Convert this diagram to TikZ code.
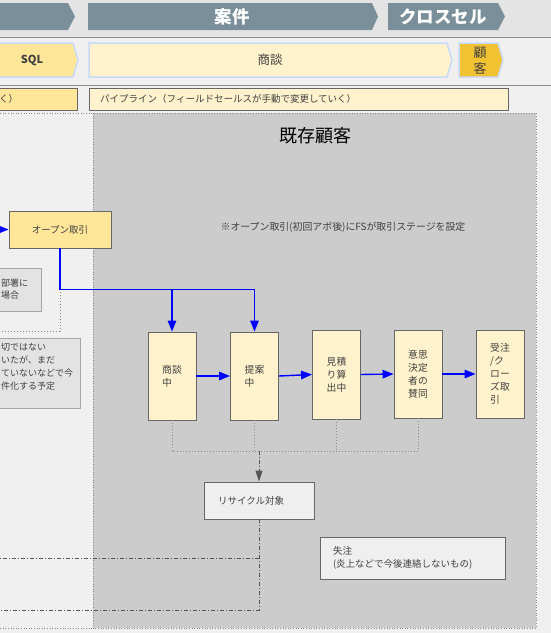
\documentclass[tikz,border=0pt]{standalone}
\usepackage{fontspec}
\setmainfont{Noto Sans CJK JP}
\usetikzlibrary{arrows.meta}
\definecolor{canvas}{HTML}{F0F0F0}
\definecolor{topband}{HTML}{E4E4E4}
\definecolor{hdrc}{HTML}{7A8F99}
\definecolor{sepc}{HTML}{8C8C8C}
\definecolor{sqlc}{HTML}{FFE699}
\definecolor{cream}{HTML}{FFF2CC}
\definecolor{gold}{HTML}{F1C232}
\definecolor{lblue}{HTML}{C9DAF8}
\definecolor{maingray}{HTML}{CCCCCC}
\definecolor{bd}{HTML}{666666}
\definecolor{txt}{HTML}{404040}
\definecolor{boxgray}{HTML}{E3E3E3}
\definecolor{boxbd}{HTML}{A6A6A6}
\definecolor{recyc}{HTML}{EFEFEF}
\definecolor{dotc}{HTML}{8A8A8A}
\definecolor{linkc}{HTML}{555555}
\begin{document}
\begin{tikzpicture}[x=1pt,y=-1pt,
  small/.style={font=\fontsize{9.5}{13}\selectfont, text=txt},
  hdrtext/.style={font=\fontsize{17.5}{20}\selectfont\bfseries, text=white},
  stagebox/.style={draw=bd, line width=0.9pt, fill=cream, minimum width=48pt, minimum height=88pt, inner sep=0pt, align=left, font=\fontsize{9.8}{13}\selectfont, text=txt},
  yellowbox/.style={draw=bd, line width=0.9pt, fill=sqlc, inner sep=0pt, small},
  notebox/.style={draw=bd, line width=0.9pt, fill=recyc, inner sep=0pt, small, align=left},
  leftbox/.style={draw=boxbd, line width=0.9pt, fill=boxgray, inner sep=0pt},
  blueline/.style={draw=blue, line width=1.4pt},
  bluearrow/.style={blueline, -{Triangle[length=11pt,width=8.5pt]}},
  dotline/.style={draw=dotc, line width=0.9pt, dash pattern=on 1pt off 2pt},
  dashdot/.style={draw=linkc, line width=0.9pt, dash pattern=on 4pt off 2pt on 1pt off 2pt},
  laneborder/.style={draw=dotc, line width=0.9pt, dash pattern=on 1pt off 1.6pt}
]
\useasboundingbox (0,0) rectangle (551,633);
\clip (0,0) rectangle (551,633);
% backgrounds
\fill[canvas] (0,0) rectangle (551,633);
\fill[topband] (0,0) rectangle (551,37);
\draw[sepc, line width=1pt] (0,37) -- (551,37);
\draw[sepc, line width=1pt] (0,85) -- (551,85);
% header arrows
\fill[hdrc] (-5,3) -- (68,3) -- (75,16.5) -- (68,30) -- (-5,30) -- cycle;
\fill[hdrc] (88,3) -- (372,3) -- (378,16.5) -- (372,30) -- (88,30) -- cycle;
\fill[hdrc] (388,3) -- (498,3) -- (505,16.5) -- (498,30) -- (388,30) -- cycle;
\node[hdrtext] (h1) at (232,16.5) {案件};
\node[hdrtext, anchor=west, inner sep=0pt] (h2) at (399,16.5) {クロスセル};
% row 2 stage arrows
\filldraw[fill=sqlc, draw=lblue, line width=1.5pt] (-5,43) -- (73,43) -- (78,60) -- (73,77) -- (-5,77) -- cycle;
\filldraw[fill=cream, draw=lblue, line width=1.5pt] (89,43) -- (447,43) -- (452,60) -- (447,77) -- (89,77) -- cycle;
\filldraw[fill=gold, draw=lblue, line width=1.5pt] (459,43) -- (498,43) -- (503,60) -- (498,77) -- (459,77) -- cycle;
\node[font=\fontsize{11}{13}\selectfont\bfseries, text=txt] (sql) at (32,60) {SQL};
\node[font=\fontsize{12.5}{14}\selectfont, text=txt] (shodan) at (270,60) {商談};
\node[font=\fontsize{13}{16}\selectfont, text=txt, align=center] (kokyaku) at (480,60.5) {顧\\客};
% row 3 bars
\node[draw=bd, line width=0.9pt, fill=sqlc, minimum width=87pt, minimum height=22pt, inner sep=0pt] (bar1) at (33.5,99) {};
\node[small, anchor=west, inner sep=0pt] (bar1t) at (-1,99) {く）};
\node[draw=bd, line width=0.9pt, fill=cream, minimum width=419pt, minimum height=22pt, inner sep=0pt] (bar2) at (298.5,99) {};
\node[small, anchor=west, inner sep=0pt] (bar2t) at (100,99) {パイプライン（フィールドセールスが手動で変更していく）};
% lanes
\fill[maingray] (93,113) rectangle (536,628);
\draw[laneborder] (93,113) rectangle (536,628);
\draw[laneborder] (-5,113) -- (93,113);
\draw[laneborder] (-5,628) -- (93,628);
% titles
\node[font=\fontsize{18}{21}\selectfont, text=black] (title) at (315,136) {既存顧客};
\node[font=\fontsize{9.9}{12}\selectfont, text=txt] (note) at (343,227) {※オープン取引(初回アポ後)にFSが取引ステージを設定};
% left lane items
\node[yellowbox, minimum width=102pt, minimum height=37pt] (open) at (60,229.5) {オープン取引};
\coordinate (inL) at (-8,229.5);
\draw[bluearrow] (inL) -- (open.west);
\node[leftbox, minimum width=81pt, minimum height=43pt] (lbA) at (0.5,289.5) {};
\node[font=\fontsize{9}{12}\selectfont, text=txt, anchor=west, align=left, inner sep=0pt] (lbAt) at (1,289.5) {部署に\\場合};
\coordinate (g1) at (60,292);
\coordinate (g2) at (-5,331);
\draw[dotline] (g1) |- (g2);
\node[leftbox, minimum width=100pt, minimum height=70pt] (lbB) at (30,373) {};
\node[font=\fontsize{9}{13}\selectfont, text=txt, anchor=west, align=left, inner sep=0pt] (lbBt) at (1,367) {切ではない\\いたが、まだ\\ていないなどで今\\件化する予定};
% stage boxes
\node[stagebox] (s1) at (172,376) {商談\\中};
\node[stagebox] (s2) at (254.5,376) {提案\\中};
\node[stagebox, minimum height=89pt] (s3) at (336.5,374.5) {見積\\り算\\出中};
\node[stagebox] (s4) at (418,374) {意思\\決定\\者の\\賛同};
\node[stagebox] (s5) at (500,374) {受注\\/ク\\ロー\\ズ取\\引};
% blue connectors
\draw[bluearrow] (open.south) -- ++(0,41) coordinate (b1) -| (s2.north);
\draw[bluearrow] (s1.north |- b1) -- (s1.north);
\draw[bluearrow] (s1.east) -- (s2.west);
\draw[bluearrow] (s2.east) -- (s3.west);
\draw[bluearrow] (s3.east) -- (s4.west);
\draw[bluearrow] (s4.east) -- (s5.west);
% recycle / lost
\node[notebox, minimum width=110pt, minimum height=37pt, text width=82pt] (recycle) at (259,500.5) {リサイクル対象};
\node[notebox, minimum width=185pt, minimum height=42pt, text width=159pt] (lost) at (412.5,558) {失注\\(炎上などで今後連絡しないもの)};
% dotted collectors
\draw[dotline] (s1.south) -- ++(0,31) coordinate (d1) -| (s4.south);
\draw[dotline] (s2.south) -- (s2.south |- d1);
\draw[dotline] (s3.south) -- (s3.south |- d1);
\draw[dashdot, -{Triangle[length=11pt,width=7pt]}, draw=linkc, fill=linkc] (recycle.north |- d1) -- (recycle.north);
% dash-dot exits
\coordinate (e1) at (-5,610);
\coordinate (e2) at (-5,558);
\draw[dashdot] (recycle.south) |- (e1);
\draw[dashdot] (recycle.south |- e2) -- (e2);
\end{tikzpicture}
\end{document}
